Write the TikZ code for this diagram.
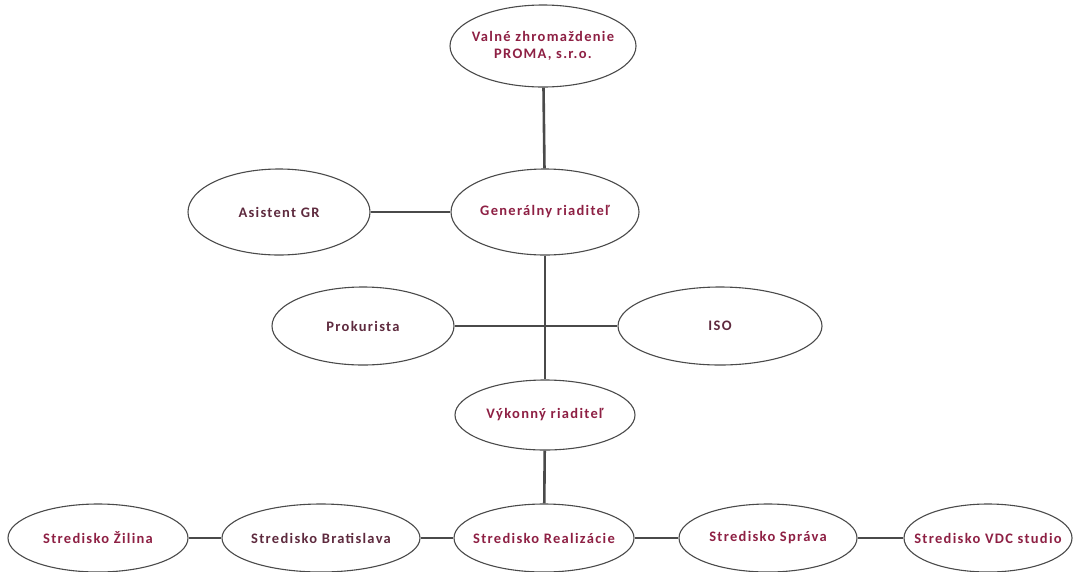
\documentclass[tikz,border=0pt]{standalone}
\usepackage{fontspec}
\setmainfont{Carlito}
\newfontfamily\orgfont[LetterSpace=9]{Carlito}
\usetikzlibrary{shapes.geometric}
\definecolor{txtred}{HTML}{8E2044}
\definecolor{txtdark}{HTML}{5E2A3E}
\definecolor{edge}{HTML}{4A4A4A}
\tikzset{
  org/.style={ellipse, draw=edge, line width=1.1pt, fill=white, inner xsep=-40pt, inner ysep=0pt,
    font=\orgfont\bfseries\fontsize{14.5}{17}\selectfont, text=txtred, align=center},
  dk/.style={text=txtdark},
  link/.style={draw=edge, line width=2.6pt}
}
\begin{document}
\begin{tikzpicture}[x=1pt,y=-1pt]
\useasboundingbox[fill=white] (0,0) rectangle (1076,571);
\node[org, minimum width=186, minimum height=82] (vz) at (543,46) {Valné zhromaždenie\\PROMA, s.r.o.};
\node[org, minimum width=188, minimum height=86] (gr) at (545,212) {Generálny riaditeľ};
\node[org, dk, minimum width=182, minimum height=86] (as) at (279,212) {Asistent GR};
\node[org, dk, minimum width=182, minimum height=78] (pr) at (363,326) {Prokurista};
\node[org, dk, minimum width=204, minimum height=78] (iso) at (720,326) {ISO};
\node[org, minimum width=180, minimum height=70] (vr) at (545,415) {Výkonný riaditeľ};
\node[org, minimum width=180, minimum height=68] (zi) at (98,538) {Stredisko Žilina};
\node[org, dk, minimum width=198, minimum height=68] (ba) at (321,538) {Stredisko Bratislava};
\node[org, minimum width=180, minimum height=68] (re) at (544,538) {Stredisko Realizácie};
\node[org, minimum width=178, minimum height=68] (sp) at (768,538) {Stredisko Správa};
\node[org, minimum width=168, minimum height=68] (vdc) at (988,538) {Stredisko VDC studio};
\draw[link] (vz) -- (gr);
\draw[link] (as) -- (gr);
\draw[link] (gr) -- (vr);
\draw[link] (pr) -- (iso);
\draw[link] (vr) -- (re);
\draw[link] (zi) -- (ba);
\draw[link] (ba) -- (re);
\draw[link] (re) -- (sp);
\draw[link] (sp) -- (vdc);
\end{tikzpicture}
\end{document}
